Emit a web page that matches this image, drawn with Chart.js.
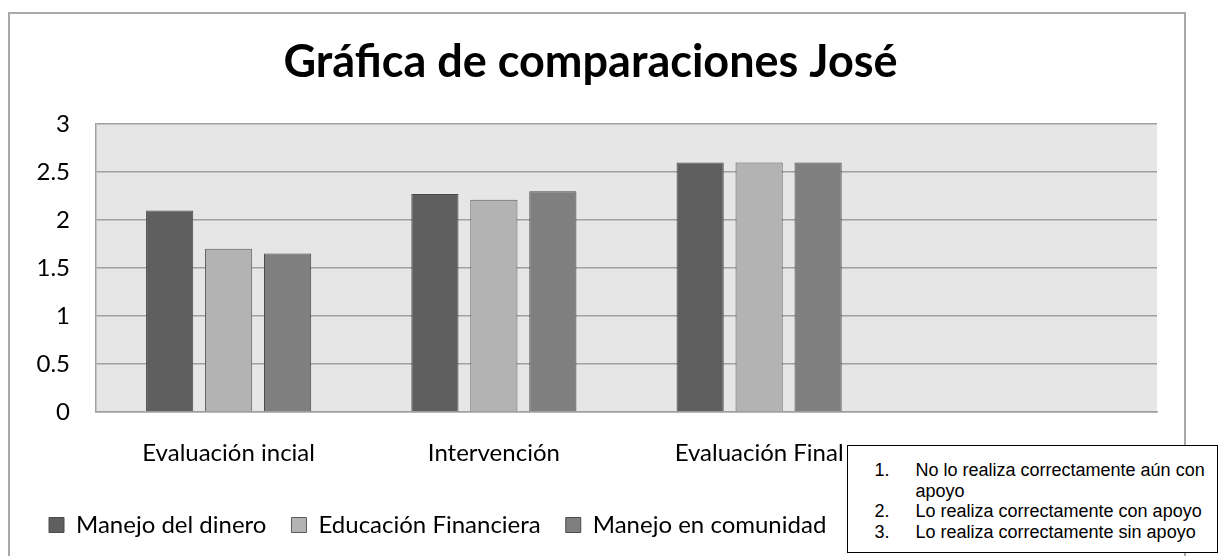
<!DOCTYPE html>
<html>
<head>
<meta charset="utf-8">
<script src="https://cdn.jsdelivr.net/npm/chart.js@4"></script>
<style>
html,body{margin:0;padding:0;background:#fff;width:1228px;height:556px;overflow:hidden;position:relative}
#frame{position:absolute;left:8px;top:12px;width:1178px;height:560px;border:2px solid #a9a9a9;box-sizing:border-box}
#wrap{position:absolute;left:0;top:0;width:1228px;height:556px}
#note{position:absolute;left:847px;top:445px;width:371px;height:108px;box-sizing:border-box;border:1.5px solid #000;background:#fff;font-family:"Liberation Sans",Arial,sans-serif;font-size:18px;line-height:20.5px;padding-top:14px;padding-left:26.5px;color:#000}
.row{display:flex}
.num{width:41px;flex:none}
.txt{width:298px}
</style>
</head>
<body>
<div id="frame"></div>
<div id="wrap"><canvas id="c" width="1228" height="556"></canvas></div>
<div id="note"></div>
<script>
const categories = ['Evaluación incial', 'Intervención', 'Evaluación Final', ''];
const seriesNames = ['Manejo del dinero', 'Educación Financiera', 'Manejo en comunidad'];
const manejoDinero = [2.1, 2.27, 2.6, null];
const educacionFinanciera = [1.7, 2.21, 2.6, null];
const manejoComunidad = [1.65, 2.3, 2.6, null];
const yMin = 0, yMax = 3, yStep = 0.5;
const chartTitle = 'Gráfica de comparaciones José';
const noteNumbers = ['1.', '2.', '3.'];
const noteTexts = ['No lo realiza correctamente aún con apoyo', 'Lo realiza correctamente con apoyo', 'Lo realiza correctamente sin apoyo'];

const note = document.getElementById('note');
noteTexts.forEach((t, i) => {
  const r = document.createElement('div'); r.className = 'row';
  const n = document.createElement('div'); n.className = 'num'; n.textContent = noteNumbers[i];
  const s = document.createElement('div'); s.className = 'txt'; s.textContent = t;
  r.appendChild(n); r.appendChild(s); note.appendChild(r);
});

const fills = ['#5f5f5f', '#b3b3b3', '#7f7f7f'];
const borders = ['#4a4a4a', '#5a5a5a', '#4a4a4a'];
const values = [manejoDinero, educacionFinanciera, manejoComunidad];

const plotBg = {
  id: 'plotBg',
  beforeDraw(chart) {
    const {ctx, chartArea: a} = chart;
    ctx.save(); ctx.fillStyle = '#e6e6e6';
    ctx.fillRect(a.left, a.top, a.right - a.left, a.bottom - a.top);
    ctx.restore();
  }
};

new Chart(document.getElementById('c'), {
  type: 'bar',
  data: {
    labels: categories,
    datasets: values.map((v, i) => ({
      label: seriesNames[i], data: v,
      backgroundColor: fills[i], borderColor: borders[i], borderWidth: 1,
      categoryPercentage: 0.667, barPercentage: 0.8
    }))
  },
  options: {
    responsive: false, animation: false,
    layout: {padding: {left: 24, right: 71, top: 0, bottom: 9}},
    plugins: {
      tooltip: {enabled: false},
      title: {display: true, text: chartTitle, color: '#000',
        font: {family: 'Lato', size: 45, weight: 'bold'}, padding: {top: 35, bottom: 35}},
      legend: {position: 'bottom', align: 'start',
        labels: {color: '#000', font: {family: 'Lato', size: 24}, boxWidth: 15, boxHeight: 15, padding: 25}}
    },
    scales: {
      y: {min: yMin, max: yMax,
        ticks: {stepSize: yStep, color: '#000', font: {family: 'Lato', size: 24}, padding: 26,
          callback: (v) => String(v)},
        grid: {color: '#a0a0a0', lineWidth: 1.5, drawTicks: false},
        border: {color: '#a0a0a0', width: 1.5},
        afterFit(s) { s.width = 72; }
      },
      x: {
        ticks: {color: '#000', font: {family: 'Lato', size: 24}, padding: 27},
        grid: {display: false, drawTicks: false},
        border: {color: '#a0a0a0', width: 1.5},
        afterFit(s) { s.height = 76; }
      }
    }
  },
  plugins: [plotBg]
});
</script>
</body>
</html>
